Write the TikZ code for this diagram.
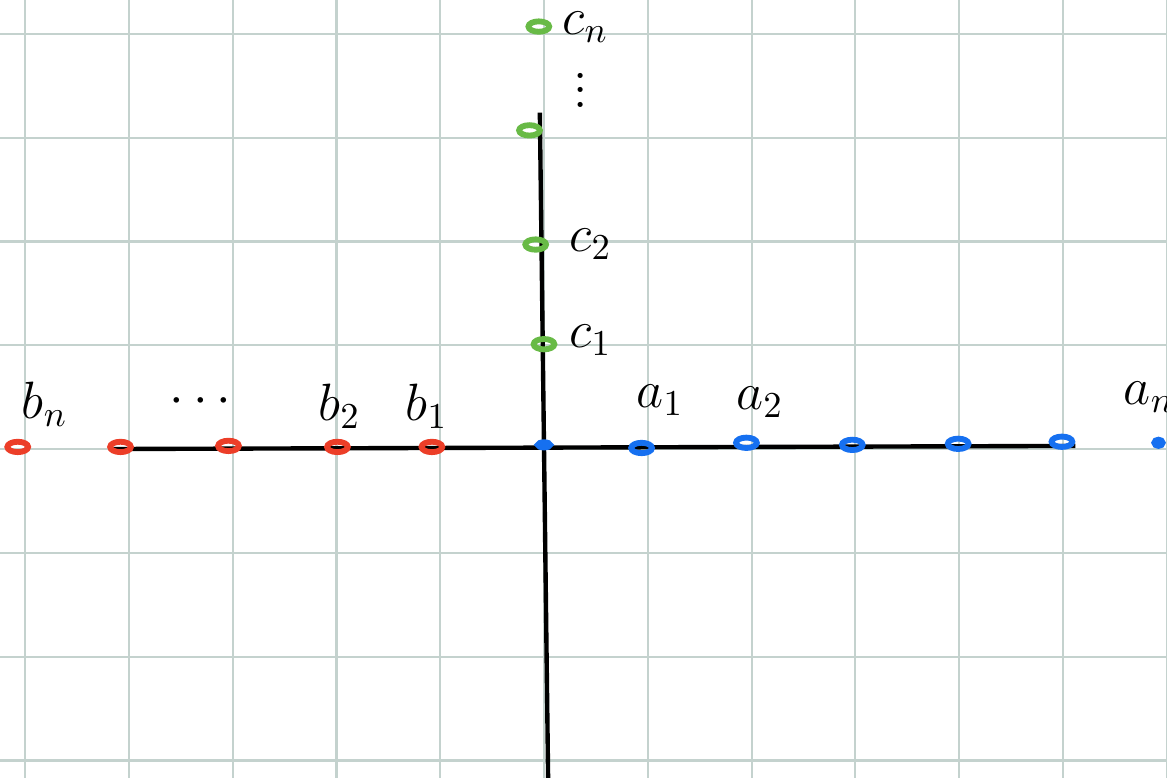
\documentclass[tikz,border=0pt]{standalone}
\usetikzlibrary{shapes.geometric}
\definecolor{gridcol}{RGB}{196,210,206}
\definecolor{pred}{RGB}{236,62,40}
\definecolor{pblue}{RGB}{22,112,240}
\definecolor{pgreen}{RGB}{104,186,70}
\begin{document}
\begin{tikzpicture}[
                x=1cm, y=1cm,
                pt/.style={ellipse, draw, line width=1.6pt, inner sep=0pt, minimum width=0.2cm, minimum height=0.1cm},
                lbl/.style={font=\Large, inner sep=1pt}
                ]
                \useasboundingbox (-5.241,-3.160) rectangle (6.002,4.326);
                % grid
                \foreach \x in {-5,...,6} \draw[gridcol, line width=0.6pt] (\x,-3.2) -- (\x,4.4);
                \foreach \y in {-3,...,4} \draw[gridcol, line width=0.6pt] (-5.3,\y) -- (6.1,\y);
                % axes
                \coordinate (xl) at (-4.18,0);
                \coordinate (xr) at (5.12,0.03);
                \coordinate (yt) at (-0.04,3.24);
                \coordinate (yb) at (0.04,-3.2);
                \draw[line width=1.2pt] (xl) -- (xr);
                \draw[line width=1.2pt] (yt) -- (yb);
                % points
                \node[pt, pred] (b5) at (-5.07,0.02) {};
                \node[pt, pred] (b4) at (-4.08,0.02) {};
                \node[pt, pred] (b3) at (-3.04,0.03) {};
                \node[pt, pred] (b2) at (-1.99,0.02) {};
                \node[pt, pred] (b1) at (-1.08,0.02) {};
                \node[pt, pblue, minimum width=0.12cm, minimum height=0.05cm] (o) at (0,0.04) {};
                \node[pt, pblue] (a1) at (0.94,0.01) {};
                \node[pt, pblue] (a2) at (1.95,0.06) {};
                \node[pt, pblue] (a3) at (2.97,0.04) {};
                \node[pt, pblue] (a4) at (3.99,0.05) {};
                \node[pt, pblue] (a5) at (4.99,0.07) {};
                \node[pt, pblue, minimum width=0.08cm, minimum height=0.06cm] (a6) at (5.92,0.06) {};
                \node[pt, pgreen] (c1) at (0,1.01) {};
                \node[pt, pgreen] (c2) at (-0.08,1.97) {};
                \node[pt, pgreen] (c3) at (-0.14,3.07) {};
                \node[pt, pgreen] (cn) at (-0.05,4.07) {};
                % labels
                \node[lbl] (lbn) at (-4.81,0.43) {$b_n$};
                \node[lbl] (ldots) at (-3.31,0.45) {$\cdots$};
                \node[lbl] (lb2) at (-1.97,0.41) {$b_2$};
                \node[lbl] (lb1) at (-1.13,0.41) {$b_1$};
                \node[lbl] (la1) at (1.12,0.47) {$a_1$};
                \node[lbl] (la2) at (2.08,0.45) {$a_2$};
                \node[lbl] (lan) at (5.83,0.50) {$a_n$};
                \node[lbl] (lc1) at (0.45,1.05) {$c_1$};
                \node[lbl] (lc2) at (0.45,1.97) {$c_2$};
                \node[lbl] (lcn) at (0.40,4.06) {$c_n$};
                \node[lbl] (lvdots) at (0.35,3.56) {$\vdots$};
            \end{tikzpicture}
\end{document}
